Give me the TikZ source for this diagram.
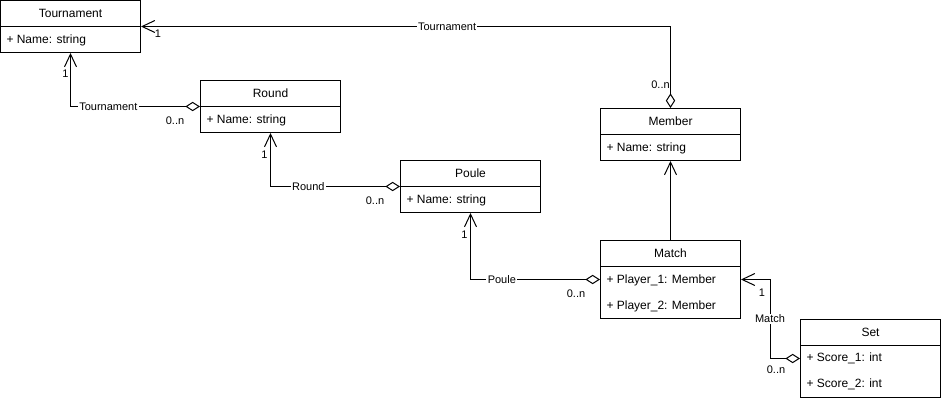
\documentclass[tikz,border=0pt]{standalone}
\usepackage{fontspec}
\setmainfont{Liberation Sans}
\usetikzlibrary{arrows.meta,calc}

\tikzset{every picture/.style={line width=0.75pt}}
\tikzset{
  classbox/.style={draw, fill=white, minimum width=105pt, inner sep=0pt},
  classtitle/.style={inner sep=0pt, font=\fontsize{9}{11}\selectfont},
  attr/.style={anchor=west, inner sep=0pt, font=\fontsize{9}{11}\selectfont},
  nav/.style={-{Straight Barb[length=9.5pt,width=9pt]}},
  assoc/.style={{Diamond[open,length=11pt,width=7pt]}-{Straight Barb[length=9.5pt,width=9pt]}},
  edgelabel/.style={fill=white, inner sep=1pt, font=\fontsize{8.25}{10}\selectfont},
  mult/.style={inner sep=0pt, font=\fontsize{8.25}{10}\selectfont},
}

\begin{document}
\begin{tikzpicture}[x=0.75pt,y=0.75pt,yscale=-1,xscale=1]
\path[use as bounding box] (-0.5,-0.5) rectangle (940.5,399.5);

%Shape: Class [id:tournament]
\node[classbox, minimum height=39pt] (tournament) at (70,26) {};
\draw ($(tournament.north west)+(0,26)$) -- ($(tournament.north east)+(0,26)$);
% Text Node
\node[classtitle] (tournamenttitle) at ($(tournament.north)+(0,13)$) {Tournament};
% Text Node
\node[attr] (tournamentname) at ($(tournament.north west)+(6,40)$) {+ Name: string};

%Shape: Class [id:round]
\node[classbox, minimum height=39pt] (round) at (270,106) {};
\draw ($(round.north west)+(0,26)$) -- ($(round.north east)+(0,26)$);
% Text Node
\node[classtitle] (roundtitle) at ($(round.north)+(0,13)$) {Round};
% Text Node
\node[attr] (roundname) at ($(round.north west)+(6,40)$) {+ Name: string};

%Shape: Class [id:poule]
\node[classbox, minimum height=39pt] (poule) at (470,186) {};
\draw ($(poule.north west)+(0,26)$) -- ($(poule.north east)+(0,26)$);
% Text Node
\node[classtitle] (pouletitle) at ($(poule.north)+(0,13)$) {Poule};
% Text Node
\node[attr] (poulename) at ($(poule.north west)+(6,40)$) {+ Name: string};

%Shape: Class [id:member]
\node[classbox, minimum height=39pt] (member) at (670,134) {};
\draw ($(member.north west)+(0,26)$) -- ($(member.north east)+(0,26)$);
% Text Node
\node[classtitle] (membertitle) at ($(member.north)+(0,13)$) {Member};
% Text Node
\node[attr] (membername) at ($(member.north west)+(6,40)$) {+ Name: string};

%Shape: Class [id:match]
\node[classbox, minimum height=58.5pt] (match) at (670,279) {};
\draw ($(match.north west)+(0,26)$) -- ($(match.north east)+(0,26)$);
% Text Node
\node[classtitle] (matchtitle) at ($(match.north)+(0,13)$) {Match};
% Text Node
\node[attr] (matchplayera) at ($(match.north west)+(6,40)$) {+ Player\_1: Member};
% Text Node
\node[attr] (matchplayerb) at ($(match.north west)+(6,66)$) {+ Player\_2: Member};

%Shape: Class [id:set]
\node[classbox, minimum height=58.5pt] (set) at (870,358) {};
\draw ($(set.north west)+(0,26)$) -- ($(set.north east)+(0,26)$);
% Text Node
\node[classtitle] (settitle) at ($(set.north)+(0,13)$) {Set};
% Text Node
\node[attr] (setscorea) at ($(set.north west)+(6,39)$) {+ Score\_1: int};
% Text Node
\node[attr] (setscoreb) at ($(set.north west)+(6,65)$) {+ Score\_2: int};

%Connector [id:member-tournament]
\draw[assoc] (member.north) |- (tournament.east) node[edgelabel, pos=0.711] {Tournament};
\node[mult] (tournamentone) at ($(tournament.east)+(17,7)$) {1};
\node[mult] (membermany) at ($(member.north)+(-10,-23)$) {0..n};

%Connector [id:round-tournament]
\draw[assoc] (round.west) -| (tournament.south) node[edgelabel, pos=0.354] {Tournament};
\node[mult] (tournamentonebis) at ($(tournament.south)+(-5,21)$) {1};
\node[mult] (roundmany) at ($(round.west)+(-25,14)$) {0..n};

%Connector [id:poule-round]
\draw[assoc] (poule.west) -| (round.south) node[edgelabel, pos=0.354] {Round};
\node[mult] (roundone) at ($(round.south)+(-6,22)$) {1};
\node[mult] (poulemany) at ($(poule.west)+(-25,14)$) {0..n};

%Connector [id:match-poule]
\draw[assoc] (match.west) -| (poule.south) node[edgelabel, pos=0.379] {Poule};
\node[mult] (pouleone) at ($(poule.south)+(-6,22)$) {1};
\node[mult] (matchmany) at ($(match.west)+(-24,14)$) {0..n};

%Connector [id:match-member]
\draw[nav] (match.north) -- (member.south);

%Connector [id:set-match]
\draw[assoc] (set.west) -- ++(-30,0) |- (match.east) node[edgelabel, pos=0.25] {Match};
\node[mult] (matchone) at ($(match.east)+(21,13)$) {1};
\node[mult] (setmany) at ($(set.west)+(-24,11)$) {0..n};

\end{tikzpicture}
\end{document}
